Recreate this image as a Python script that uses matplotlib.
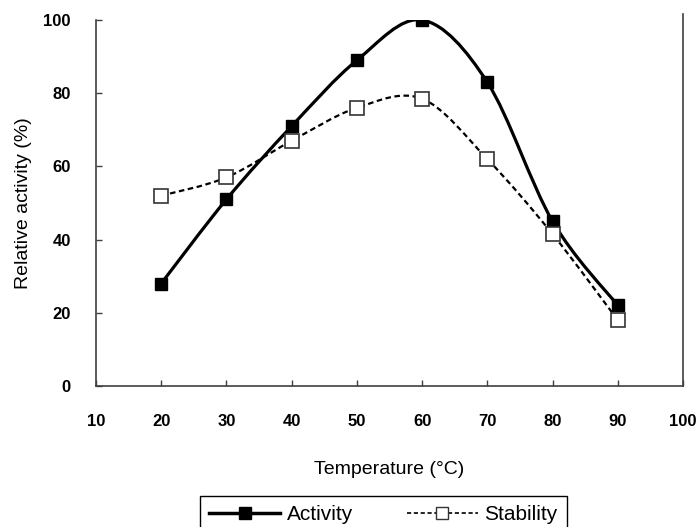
import numpy as np
import matplotlib.pyplot as plt
from matplotlib.path import Path
from matplotlib.patches import PathPatch
from matplotlib.lines import Line2D

plt.rcParams['font.family'] = ['Liberation Sans', 'DejaVu Sans']

# data
temperature = [20, 30, 40, 50, 60, 70, 80, 90]
activity = [28, 51, 71, 89, 100, 83, 45, 22]
stability = [52, 57, 67, 76, 78.5, 62, 41.5, 18]
x_ticks = [10, 20, 30, 40, 50, 60, 70, 80, 90, 100]
y_ticks = [0, 20, 40, 60, 80, 100]


def smooth_path(x, y):
    # bezier path like the "smoothed line" option of a spreadsheet
    p = np.column_stack([x, y]).astype(float)
    verts = [p[0]]
    codes = [Path.MOVETO]
    n = len(p)
    for i in range(n - 1):
        p0 = p[i - 1] if i > 0 else p[i]
        p3 = p[i + 2] if i + 2 < n else p[i + 1]
        c1 = p[i] + (p[i + 1] - p0) / 6
        c2 = p[i + 1] - (p3 - p[i]) / 6
        verts += [c1, c2, p[i + 1]]
        codes += [Path.CURVE4] * 3
    return Path(verts, codes)


fig = plt.figure(figsize=(6.98, 5.27), dpi=100)
ax = fig.add_axes([0.1375, 0.2676, 0.8410, 0.6944])

ax.add_patch(PathPatch(smooth_path(temperature, activity), fill=False,
                       edgecolor='black', lw=2.3, zorder=3))
ax.add_patch(PathPatch(smooth_path(temperature, stability), fill=False,
                       edgecolor='black', lw=1.6, linestyle=(0, (2.5, 1.6)), zorder=3))
ax.plot(temperature, activity, 's', color='black', markersize=9, zorder=4)
ax.plot(temperature, stability, 's', markerfacecolor='white',
        markeredgecolor='#333333', markeredgewidth=1.2, markersize=9.5, zorder=4)

ax.set_xlim(10, 100)
ax.set_ylim(0, 100)
ax.set_xticks(x_ticks)
ax.set_yticks(y_ticks)
ax.tick_params(direction='in', length=4, width=1, color='#404040')
ax.tick_params(axis='x', pad=20)
ax.tick_params(axis='y', pad=18)
for lab in ax.get_xticklabels() + ax.get_yticklabels():
    lab.set_fontweight('bold')
    lab.set_fontsize(12)

ax.spines['top'].set_visible(False)
for s in ['left', 'bottom', 'right']:
    ax.spines[s].set_color('#404040')
    ax.spines[s].set_linewidth(1.2)
ax.spines['right'].set_bounds(0, 101.6)

ax.set_xlabel('Temperature (°C)', fontsize=14, labelpad=23)
ax.set_ylabel('Relative activity (%)', fontsize=14, labelpad=8)

handles = [
    Line2D([], [], color='black', lw=2.5, marker='s', markersize=8),
    Line2D([], [], color='black', lw=1.2, linestyle=(0, (2.5, 1.6)), marker='s',
           markerfacecolor='white', markeredgecolor='#333333', markersize=8),
]
leg = fig.legend(handles, ['Activity', 'Stability'], ncol=2, loc='upper left',
                 bbox_to_anchor=(200 / 698, 1 - 496 / 527), fontsize=15,
                 fancybox=False, edgecolor='black', framealpha=1,
                 handlelength=3.4, columnspacing=2.6, handletextpad=0.3,
                 borderpad=0.45, borderaxespad=0)
leg.get_frame().set_linewidth(1.0)

fig.savefig('out.png', dpi=100)
